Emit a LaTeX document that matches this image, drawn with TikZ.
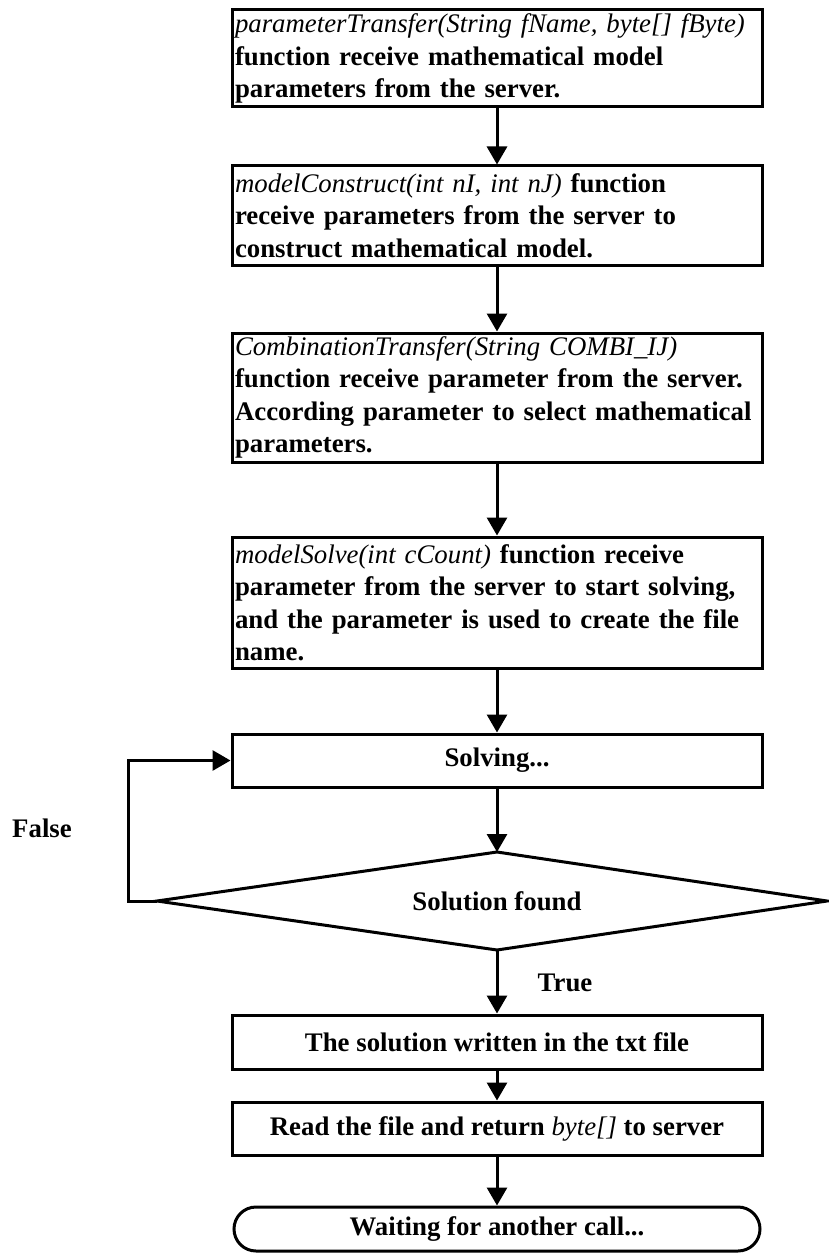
\documentclass[tikz,border=0pt]{standalone}
\usepackage{fontspec}
\setmainfont{Liberation Serif}
\usetikzlibrary{arrows.meta,shapes.misc}
\newcommand\fnit[1]{{\mdseries\itshape #1}}
\tikzset{
  lw/.style={line width=3pt},
  flowbox/.style={draw, lw, rectangle, minimum width=530pt, text width=524pt, inner sep=3pt, align=left,
     font=\fontsize{26.8}{32.5}\selectfont\bfseries},
  onebox/.style={draw, lw, rectangle, minimum width=530pt, inner sep=2pt, align=center,
     font=\fontsize{26.8}{32.5}\selectfont\bfseries},
  lbl/.style={font=\fontsize{26.8}{32.5}\selectfont\bfseries, inner sep=0pt},
  term/.style={draw, lw, rounded rectangle, rounded rectangle arc length=180, minimum width=530pt,
     minimum height=44pt, inner sep=2pt, font=\fontsize{26.8}{32.5}\selectfont\bfseries},
  conn/.style={lw, -{Triangle[length=18pt,width=20pt]}}
}
\begin{document}
\begin{tikzpicture}[x=1pt,y=-1pt]
\useasboundingbox (0,0) rectangle (829,1257);

\node[flowbox, minimum height=97pt] (b1) at (497,58.5)
 {\fnit{parameterTransfer(String fName, byte[] fByte)}\\
  function receive mathematical model\\
  parameters from the server.};
\node[flowbox, minimum height=99pt] (b2) at (497,215.5)
 {\fnit{modelConstruct(int nI, int nJ)} function\\
  receive parameters from the server to\\
  construct mathematical model.};
\node[flowbox, minimum height=129pt] (b3) at (497,397.5)
 {\fnit{CombinationTransfer(String COMBI\_IJ)}\\
  function receive parameter from the server.\\
  According parameter to select mathematical\\
  parameters.};
\node[flowbox, minimum height=131pt] (b4) at (497,602.5)
 {\fnit{modelSolve(int cCount)} function receive\\
  parameter from the server to start solving,\\
  and the parameter is used to create the file\\
  name.};
\node[onebox, minimum height=53pt] (solve) at (497,760.5) {Solving...};

\coordinate (dtop) at (497,852);
\coordinate (dright) at (827,901);
\coordinate (dbot) at (497,950);
\coordinate (dleft) at (157,901);
\draw[lw, line join=miter] (dtop) -- (dright) -- (dbot) -- (dleft) -- cycle;
\node[lbl] (dec) at (497,901) {Solution found};

\node[onebox, minimum height=54pt] (sol) at (497,1042) {The solution written in the txt file};
\node[onebox, minimum height=53pt] (read) at (497,1128.5) {Read the file and return \fnit{byte[]} to server};
\node[term] (wait) at (497,1229) {Waiting for another call...};

\node[lbl] (false) at (42,828) {False};
\node[lbl] (true) at (565,983) {True};

\draw[conn] (b1.south) -- (b2.north);
\draw[conn] (b2.south) -- (b3.north);
\draw[conn] (b3.south) -- (b4.north);
\draw[conn] (b4.south) -- (solve.north);
\draw[conn] (solve.south) -- (dtop);
\coordinate (lc) at (128,901);
\draw[conn, line join=miter] (dleft) -- (lc) |- (solve.west);
\draw[conn] (dbot) -- (sol.north);
\draw[conn] (sol.south) -- (read.north);
\draw[conn] (read.south) -- (wait.north);
\end{tikzpicture}
\end{document}
